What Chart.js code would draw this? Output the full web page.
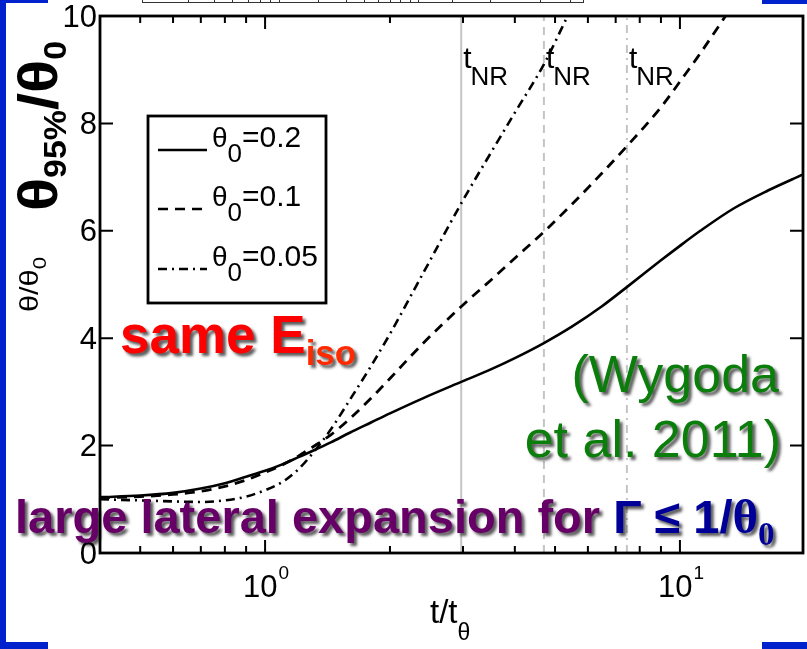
<!DOCTYPE html>
<html><head><meta charset="utf-8">
<script src="https://cdn.jsdelivr.net/npm/chart.js@4.4.1/dist/chart.umd.min.js"></script>
<style>html,body{margin:0;padding:0;background:#fff;}canvas{display:block;}</style>
</head><body>
<canvas id="c" width="807" height="649"></canvas>
<script>
// ---- data ----
const tTheta02 = [0.4,0.5,0.6,0.7,0.8,0.9,1.0,1.1,1.2,1.3,1.44,1.6,1.8,2.0,2.4,3.0,3.5,4.0,4.7,5.5,6.5,7.5,9,10,11.2,13.5,16.3,19.8];
const theta02  = [1.04,1.07,1.12,1.2,1.3,1.42,1.53,1.65,1.78,1.9,2.06,2.24,2.43,2.6,2.88,3.2,3.42,3.63,3.91,4.22,4.6,4.97,5.45,5.72,6.0,6.42,6.75,7.05];
const tTheta01 = [0.4,0.5,0.6,0.7,0.8,0.9,1.0,1.1,1.2,1.3,1.44,1.6,1.8,2.0,2.4,3.0,3.5,4.0,4.7,5.5,6.5,7.5,9,10.2,11,12.7,13];
const theta01  = [1.03,1.05,1.09,1.15,1.24,1.36,1.5,1.64,1.8,1.97,2.2,2.5,2.88,3.25,3.9,4.62,5.08,5.49,5.98,6.5,7.08,7.6,8.3,8.87,9.22,9.93,10.05];
const tTheta005 = [0.4,0.5,0.6,0.7,0.8,0.9,1.0,1.1,1.2,1.3,1.44,1.6,1.8,2.0,2.4,3.0,3.5,4.0,4.7,5.4];
const theta005  = [1.0,0.98,0.96,0.95,0.98,1.05,1.17,1.32,1.55,1.85,2.3,2.85,3.48,4.08,5.2,6.57,7.45,8.2,9.1,10.05];
const tNR = [2.97, 4.7, 7.45];
const seriesLabels = ['θ0=0.2','θ0=0.1','θ0=0.05'];
const yTicks = [0,2,4,6,8,10];
const xMajor = [1,10];
const xMinor = [0.5,0.6,0.7,0.8,0.9,2,3,4,5,6,7,8,9];
const xMin = 0.4, xMax = 19.8, yMin = 0, yMax = 10;

const pts = (xs, ys) => xs.map((x,i)=>({x:x,y:ys[i]}));
const FONT = '"Liberation Sans", Arial, Helvetica, sans-serif';
const DASH = [10,7];
const DASHDOT = [9,5,2,5];
const vStyles = [[], [8,6], [8,5,2,5]];

const datasets = [];
tNR.forEach((t,i)=>{
  datasets.push({data:[{x:t,y:yMin},{x:t,y:yMax}], borderColor:'#c4c4c4', borderWidth:2, borderDash:vStyles[i], pointRadius:0, showLine:true, order:5});
});
datasets.push({data:pts(tTheta005,theta005), borderColor:'#000', borderWidth:2.6, borderDash:DASHDOT, pointRadius:0, showLine:true, cubicInterpolationMode:'monotone'});
datasets.push({data:pts(tTheta01,theta01), borderColor:'#000', borderWidth:2.8, borderDash:DASH, pointRadius:0, showLine:true, cubicInterpolationMode:'monotone'});
datasets.push({data:pts(tTheta02,theta02), borderColor:'#000', borderWidth:2.6, pointRadius:0, showLine:true, cubicInterpolationMode:'monotone'});

function shadowOn(ctx){ctx.shadowColor='rgba(0,0,0,0.65)';ctx.shadowOffsetX=3;ctx.shadowOffsetY=3;ctx.shadowBlur=3;}
function shadowOff(ctx){ctx.shadowColor='transparent';ctx.shadowOffsetX=0;ctx.shadowOffsetY=0;ctx.shadowBlur=0;}

function rotatedRun(ctx, x, y, parts, targetLen){
  let total=0;
  parts.forEach(p=>{ctx.font=p[1]; total+=ctx.measureText(p[0]).width;});
  ctx.save(); ctx.translate(x,y); ctx.rotate(-Math.PI/2); ctx.scale(targetLen/total,1);
  let cx=0;
  parts.forEach(p=>{ctx.font=p[1]; ctx.fillText(p[0],cx,p[2]); cx+=ctx.measureText(p[0]).width;});
  ctx.restore();
}

const deco = {
  id:'deco',
  afterDatasetsDraw(chart){
    const ctx = chart.ctx, a = chart.chartArea, xs = chart.scales.x, ys = chart.scales.y;
    ctx.save();
    ctx.strokeStyle='#000'; ctx.lineWidth=2.8; ctx.setLineDash([]);
    ctx.strokeRect(a.left, a.top, a.right-a.left, a.bottom-a.top);
    ctx.lineWidth=2;
    ctx.beginPath();
    xMajor.forEach(v=>{const p=xs.getPixelForValue(v); ctx.moveTo(p,a.bottom); ctx.lineTo(p,a.bottom-13); ctx.moveTo(p,a.top); ctx.lineTo(p,a.top+13);});
    xMinor.forEach(v=>{const p=xs.getPixelForValue(v); ctx.moveTo(p,a.bottom); ctx.lineTo(p,a.bottom-7); ctx.moveTo(p,a.top); ctx.lineTo(p,a.top+7);});
    yTicks.forEach(v=>{const p=ys.getPixelForValue(v); ctx.moveTo(a.left,p); ctx.lineTo(a.left+13,p); ctx.moveTo(a.right,p); ctx.lineTo(a.right-13,p);});
    ctx.stroke();
    ctx.fillStyle='#000'; ctx.font='31px '+FONT; ctx.textAlign='right'; ctx.textBaseline='middle';
    yTicks.forEach(v=>{ctx.fillText(String(v), 97, ys.getPixelForValue(v)+2);});
    ctx.textBaseline='alphabetic';
    xMajor.forEach(v=>{
      const p = xs.getPixelForValue(v);
      const e = String(Math.round(Math.log10(v)));
      ctx.font='31px '+FONT; const w1=ctx.measureText('10').width;
      ctx.font='19px '+FONT; const w2=ctx.measureText(e).width;
      const x0 = p - (w1+w2+1)/2 + 1;
      ctx.textAlign='left';
      ctx.font='31px '+FONT; ctx.fillText('10', x0, 597);
      ctx.font='19px '+FONT; ctx.fillText(e, x0+w1+1, 579);
    });
    ctx.textAlign='left'; ctx.font='33px '+FONT; ctx.fillText('t/t', 430, 623);
    let w = ctx.measureText('t/t').width;
    ctx.font='23px '+FONT; ctx.fillText('θ', 430+w, 640);
    tNR.forEach(t=>{
      const p = xs.getPixelForValue(t)+2;
      ctx.font='30px '+FONT; ctx.fillText('t', p, 68);
      const wt = ctx.measureText('t').width;
      ctx.font='26px '+FONT; ctx.fillText('NR', p+wt-1, 85);
    });
    rotatedRun(ctx, 38, 312, [['θ/θ','25px '+FONT,0],['0','18px '+FONT,8]], 55);
    ctx.fillStyle='#fff'; ctx.fillRect(148,116,178,187);
    ctx.strokeStyle='#000'; ctx.lineWidth=2.8; ctx.strokeRect(148,116,178,187);
    const legY=[150,209,269], legDash=[[],DASH,DASHDOT];
    ctx.lineWidth=2.6;
    legY.forEach((y,i)=>{
      ctx.setLineDash(legDash[i]); ctx.beginPath(); ctx.moveTo(158,y); ctx.lineTo(207,y); ctx.stroke();
      ctx.setLineDash([]);
      const lab = seriesLabels[i];
      ctx.fillStyle='#000'; ctx.textAlign='left';
      ctx.font='28px '+FONT; ctx.fillText(lab[0], 212, y-3);
      const wt = ctx.measureText(lab[0]).width;
      ctx.font='26px '+FONT; ctx.fillText(lab[1], 212+wt, y+12);
      const ws = ctx.measureText(lab[1]).width;
      ctx.font='30px '+FONT; ctx.fillText(lab.slice(2), 212+wt+ws, y-3);
    });
    ctx.restore();
  },
  afterDraw(chart){
    const ctx = chart.ctx;
    ctx.save();
    ctx.textBaseline='alphabetic'; ctx.textAlign='left';
    ctx.fillStyle='#000';
    rotatedRun(ctx, 57, 211, [['θ','bold 56px '+FONT,0],['95%','bold 31px '+FONT,9],['/θ','bold 56px '+FONT,0],['0','bold 31px '+FONT,9]], 170);
    shadowOn(ctx);
    ctx.fillStyle='#ff0000'; ctx.font='bold 53px '+FONT; ctx.fillText('same E',120,353);
    let w = ctx.measureText('same E').width;
    ctx.fillStyle='#ff2a00'; ctx.font='bold 35px '+FONT; ctx.fillText('iso',120+w,365);
    ctx.fillStyle='#0a7d0a'; ctx.font='52px '+FONT; ctx.textAlign='right';
    ctx.fillText('(Wygoda',779,392);
    ctx.fillText('et al. 2011)',781,457);
    ctx.textAlign='left';
    ctx.fillStyle='#660066'; ctx.font='bold 47px '+FONT;
    const s1='large lateral expansion for ';
    ctx.fillText(s1,15,533); w=ctx.measureText(s1).width;
    ctx.fillStyle='#000099'; ctx.fillText('Γ ≤ 1/',15+w,533); w+=ctx.measureText('Γ ≤ 1/').width;
    ctx.font='bold 49px "Liberation Serif", "DejaVu Serif", serif'; ctx.fillText('θ',15+w,533); w+=ctx.measureText('θ').width;
    ctx.font='bold 33px "Liberation Serif", "DejaVu Serif", serif'; ctx.fillText('0',15+w,545);
    shadowOff(ctx);
    ctx.fillStyle='#0022cc';
    ctx.fillRect(0,0,6,649); ctx.fillRect(0,0,48,3); ctx.fillRect(0,642,48,7);
    ctx.fillRect(762,0,45,4); ctx.fillRect(762,642,45,7);
    ctx.strokeStyle='#333'; ctx.lineWidth=1; ctx.beginPath(); ctx.moveTo(142,2.5); ctx.lineTo(583,2.5);
    [142,188,214,232,248,260,270,279,318,346,364,378,390,400,410,418,452,490,540,570,583].forEach(px=>{ctx.moveTo(px+0.5,0);ctx.lineTo(px+0.5,3);});
    ctx.stroke();
    ctx.restore();
  }
};

new Chart(document.getElementById('c'), {
  type:'scatter',
  data:{datasets:datasets},
  options:{
    responsive:false, animation:false, events:[],
    layout:{padding:{left:100,right:4,top:16,bottom:96}},
    plugins:{legend:{display:false}, tooltip:{enabled:false}},
    scales:{
      x:{type:'logarithmic', min:xMin, max:xMax, display:false},
      y:{type:'linear', min:yMin, max:yMax, display:false}
    }
  },
  plugins:[deco]
});
</script>
</body></html>
